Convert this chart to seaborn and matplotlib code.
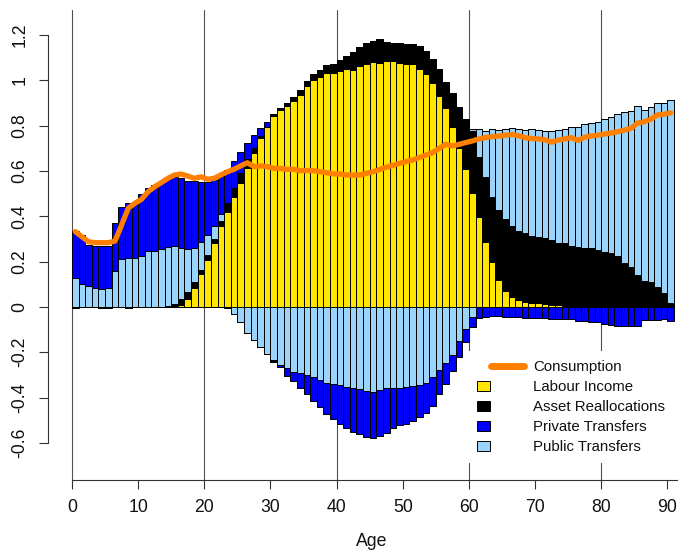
import numpy as np
import matplotlib
matplotlib.use("Agg")
import matplotlib.pyplot as plt
import matplotlib.patches as mpatches
from matplotlib.lines import Line2D
from matplotlib.legend_handler import HandlerPatch, HandlerLine2D
import seaborn as sns

# per-age flows (ages 0..90)
ages = np.arange(91)

labour = [0, 0, 0, 0, 0, 0, 0, 0, 0, 0,
          0, 0, 0, 0, 0, 0, 0.009, 0.034, 0.082, 0.144,
          0.207, 0.281, 0.358, 0.421, 0.487, 0.546, 0.612, 0.679, 0.745, 0.793,
          0.845, 0.870, 0.887, 0.909, 0.936, 0.976, 1.002, 1.017, 1.035, 1.032,
          1.042, 1.049, 1.045, 1.064, 1.071, 1.082, 1.079, 1.086, 1.086, 1.076,
          1.071, 1.071, 1.049, 1.029, 0.987, 0.933, 0.880, 0.793, 0.703, 0.608,
          0.502, 0.396, 0.287, 0.197, 0.119, 0.069, 0.044, 0.029, 0.021, 0.017,
          0.016, 0.012, 0.011, 0.009, 0.006, 0.004, 0.004, 0, 0, 0,
          0, 0, 0, 0, 0, 0, 0, 0, 0, 0, 0]

asset_pos = [0, 0, 0, 0, 0, 0, 0, 0, 0, 0,
             0, 0, 0, 0, 0.004, 0.012, 0.025, 0.031, 0.027, 0.019,
             0.023, 0.019, 0.023, 0.037, 0.037, 0.044, 0.040, 0.021, 0.010, 0.003,
             0.005, 0.010, 0.015, 0.018, 0.020, 0.022, 0.025, 0.028, 0.032, 0.040,
             0.048, 0.059, 0.082, 0.082, 0.093, 0.094, 0.103, 0.085, 0.081, 0.088,
             0.090, 0.089, 0.103, 0.103, 0.106, 0.116, 0.115, 0.150, 0.181, 0.221,
             0.273, 0.268, 0.285, 0.287, 0.309, 0.318, 0.315, 0.308, 0.307, 0.298,
             0.295, 0.291, 0.285, 0.275, 0.275, 0.267, 0.262, 0.262, 0.259, 0.252,
             0.244, 0.237, 0.225, 0.196, 0.175, 0.141, 0.115, 0.109, 0.090, 0.063, 0.016]

public_pos = [0.130, 0.100, 0.094, 0.082, 0.080, 0.082, 0.159, 0.210, 0.215, 0.215,
              0.227, 0.249, 0.249, 0.256, 0.259, 0.256, 0.226, 0.190, 0.153, 0.125,
              0.088, 0.059, 0.028, 0, 0, 0, 0, 0, 0, 0,
              0, 0, 0, 0, 0, 0, 0, 0, 0, 0,
              0, 0, 0, 0, 0, 0, 0, 0, 0, 0,
              0, 0, 0, 0, 0, 0, 0, 0, 0, 0,
              0.009, 0.120, 0.206, 0.300, 0.353, 0.397, 0.433, 0.449, 0.453, 0.471,
              0.470, 0.475, 0.480, 0.497, 0.503, 0.522, 0.527, 0.544, 0.555, 0.566,
              0.585, 0.600, 0.626, 0.663, 0.692, 0.746, 0.755, 0.773, 0.809, 0.839, 0.898]

private_pos = [0.205, 0.220, 0.181, 0.188, 0.190, 0.188, 0.211, 0.233, 0.243, 0.250,
               0.270, 0.278, 0.290, 0.297, 0.305, 0.307, 0.311, 0.303, 0.293, 0.265,
               0.235, 0.202, 0.171, 0.147, 0.121, 0.096, 0.073, 0.059, 0.034, 0.021] + [0] * 61

public_neg = [0] * 24 + [
    -0.032, -0.065, -0.113, -0.146, -0.178, -0.208,
    -0.234, -0.256, -0.271, -0.285, -0.293, -0.302, -0.308, -0.322, -0.334, -0.341,
    -0.346, -0.352, -0.356, -0.363, -0.369, -0.375, -0.366, -0.359, -0.356, -0.356,
    -0.352, -0.349, -0.344, -0.334, -0.311, -0.278, -0.249, -0.212, -0.150, -0.099,
    -0.043] + [0] * 30

asset_neg = [-0.005, 0, 0, 0, -0.004, -0.004, 0, 0, -0.005, 0,
             0, 0, 0, 0, 0, 0, 0, 0, 0, 0,
             0, 0, 0, -0.005, 0, 0, 0, 0, 0, 0,
             -0.007] + [0] * 60

private_neg = [0] * 31 + [
    -0.010, -0.032, -0.042, -0.063, -0.084, -0.107, -0.118, -0.139, -0.155,
    -0.171, -0.181, -0.194, -0.199, -0.203, -0.202, -0.204, -0.199, -0.177, -0.165,
    -0.166, -0.154, -0.143, -0.135, -0.126, -0.108, -0.092, -0.071, -0.069, -0.057,
    -0.047, -0.050, -0.043, -0.040, -0.040, -0.043, -0.043, -0.046, -0.050, -0.050,
    -0.050, -0.050, -0.053, -0.054, -0.052, -0.055, -0.060, -0.061, -0.066, -0.068,
    -0.077, -0.080, -0.083, -0.082, -0.084, -0.083, -0.058, -0.058, -0.058, -0.055, -0.060]

consumption = [0.333, 0.310, 0.288, 0.284, 0.284, 0.284, 0.291, 0.362, 0.436, 0.458,
               0.475, 0.509, 0.531, 0.549, 0.568, 0.583, 0.587, 0.578, 0.568, 0.575,
               0.564, 0.568, 0.583, 0.597, 0.608, 0.623, 0.637, 0.620, 0.623, 0.620,
               0.612, 0.612, 0.608, 0.608, 0.602, 0.603, 0.602, 0.597, 0.593, 0.588,
               0.587, 0.583, 0.582, 0.583, 0.590, 0.597, 0.607, 0.617, 0.625, 0.634,
               0.642, 0.649, 0.660, 0.671, 0.681, 0.700, 0.718, 0.711, 0.718, 0.726,
               0.733, 0.742, 0.748, 0.752, 0.755, 0.758, 0.762, 0.756, 0.748, 0.744,
               0.742, 0.738, 0.728, 0.737, 0.742, 0.748, 0.735, 0.750, 0.755, 0.759,
               0.764, 0.768, 0.774, 0.781, 0.789, 0.812, 0.818, 0.829, 0.848, 0.851, 0.857]

labels = ['Consumption', 'Labour Income', 'Asset Reallocations', 'Private Transfers', 'Public Transfers']
col_labour, col_asset, col_private, col_public = '#FFE500', '#000000', '#0000FF', '#9AD4FA'
col_cons = '#FF7F00'

sns.set_style("ticks")
plt.rcParams['font.family'] = ['Liberation Sans', 'DejaVu Sans']

W, H = 678, 553
fig = plt.figure(figsize=(W / 100, H / 100), dpi=100)
ax = fig.add_axes([48 / W, 1 - 480 / H, 630 / W, 470 / H])

# reference lines every 20 years, behind the bars
for v in [0, 20, 40, 60, 80]:
    ax.axvline(v, color='#505050', lw=0.8, zorder=0)

x = ages + 0.5
lab = np.array(labour)
ap = np.array(asset_pos)
pub = np.array(public_pos)
pn = np.array(public_neg)
an = np.array(asset_neg)

layers = [
    (labour, np.zeros(91), col_labour),
    (asset_pos, lab, col_asset),
    (public_pos, lab + ap, col_public),
    (private_pos, lab + ap + pub, col_private),
    (public_neg, np.zeros(91), col_public),
    (asset_neg, pn, col_asset),
    (private_neg, pn + an, col_private),
]
for vals, base, col in layers:
    sns.barplot(x=x, y=vals, bottom=base, native_scale=True, orient='x', width=1,
                color=col, saturation=1, edgecolor='black', linewidth=0.7,
                errorbar=None, ax=ax, zorder=2)

sns.lineplot(x=x, y=consumption, color=col_cons, lw=3.8, ax=ax, zorder=3,
             solid_capstyle='round', solid_joinstyle='round')

ax.set_xlim(-24 / 6.615, 606 / 6.615)
ax.set_ylim(-(480 - 307) / 226.5, (307 - 10) / 226.5)

ax.set_xticks(range(0, 91, 10))
ax.set_xticklabels([str(t) for t in range(0, 91, 10)])
yt = [-0.6, -0.4, -0.2, 0, 0.2, 0.4, 0.6, 0.8, 1.0, 1.2]
ax.set_yticks(yt)
ax.set_yticklabels(['-0.6', '-0.4', '-0.2', '0', '0.2', '0.4', '0.6', '0.8', '1', '1.2'],
                   va='center')
ax.tick_params(axis='both', direction='out', length=6.5, width=0.8, color='#333333',
               labelsize=12.7, labelcolor='#111111')
ax.tick_params(axis='x', pad=7)
ax.tick_params(axis='y', pad=7.4, labelrotation=90)

for s in ['top', 'right']:
    ax.spines[s].set_visible(False)
ax.spines['left'].set_bounds(-0.6, 1.2)
ax.spines['bottom'].set_bounds(0, 606 / 6.615)
for s in ['left', 'bottom']:
    ax.spines[s].set_color('#333333')
    ax.spines[s].set_linewidth(0.8)

ax.set_xlabel('Age', fontsize=12.7, color='#111111')
ax.xaxis.set_label_coords((371.5 - 48) / 630, -(546 - 480) / 470)
ax.xaxis.label.set_va('baseline')
ax.set_ylabel('')


def box_left(legend, orig_handle, xdescent, ydescent, width, height, fontsize):
    return mpatches.Rectangle((-xdescent, -ydescent + (height - 7.2) / 2), 9.4, 7.2)


class LineRight(HandlerLine2D):
    def create_artists(self, legend, orig_handle, xdescent, ydescent, width, height, fontsize, trans):
        y = (height - ydescent) / 2
        line = Line2D([-xdescent + 10, -xdescent + width], [y, y])
        self.update_prop(line, orig_handle, legend)
        line.set_transform(trans)
        return [line]


h_cons = Line2D([], [], color=col_cons, lw=5, solid_capstyle='round')
h_boxes = [mpatches.Patch(facecolor=c, edgecolor='black', lw=0.7)
           for c in [col_labour, col_asset, col_private, col_public]]
hmap = {h_cons: LineRight()}
for hb in h_boxes:
    hmap[hb] = HandlerPatch(patch_func=box_left)

leg = ax.legend([h_cons] + h_boxes, labels, handler_map=hmap,
                loc='upper left', bbox_to_anchor=(468 / W, 1 - 351 / H),
                bbox_transform=fig.transFigure, fontsize=10.8, frameon=True,
                fancybox=False, framealpha=1, facecolor='white', edgecolor='none',
                borderpad=0.6, borderaxespad=0, handlelength=3.13, handletextpad=0.6,
                labelspacing=0.4)
leg.set_zorder(5)
for t in leg.get_texts():
    t.set_color('#111111')

fig.savefig('out.png', dpi=100)
